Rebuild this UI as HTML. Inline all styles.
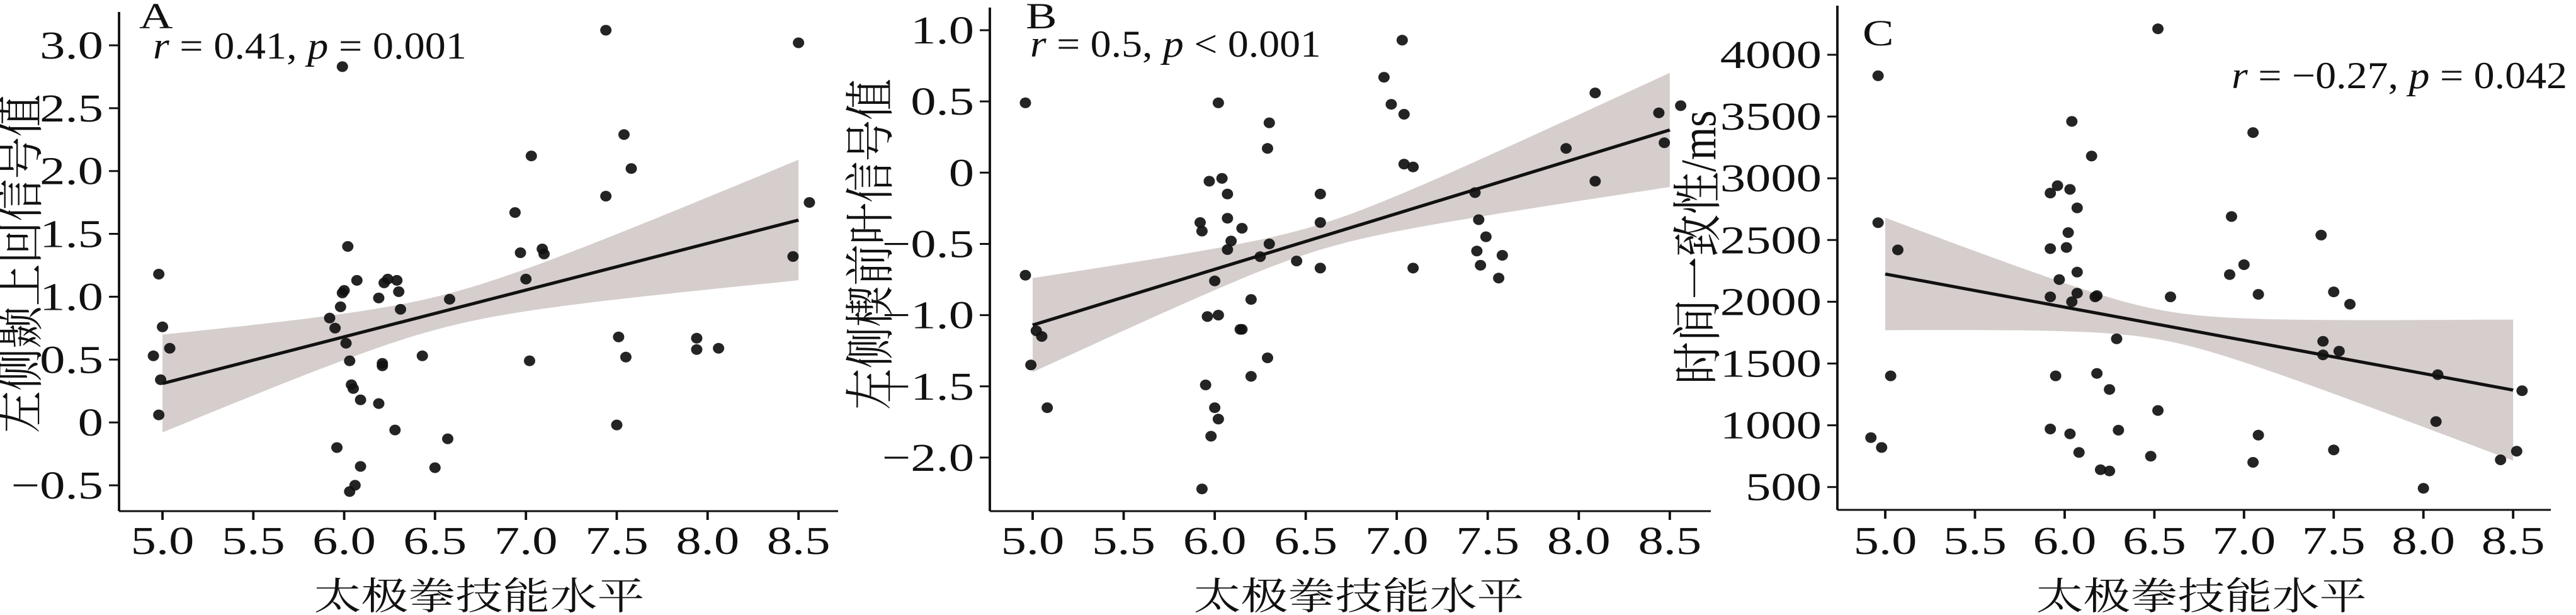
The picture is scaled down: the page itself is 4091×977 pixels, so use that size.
<!DOCTYPE html>
<html><head><meta charset="utf-8"><style>
html,body{margin:0;padding:0;background:#fff;}
svg{display:block;}
text{font-family:"Liberation Serif","Noto Serif CJK SC",serif;fill:#111;}
</style></head><body>
<svg id="s" width="4091" height="977" viewBox="0 0 3196 977" preserveAspectRatio="none" xmlns="http://www.w3.org/2000/svg"></svg>
<script>
const S=4091/3196;const svg=document.getElementById('s');let h='';
function X(x){return (x/S).toFixed(1);}
const P=[
{ax:189,y0:812,top:19,right:1331,x5:258,xu:288.6,ym:v=>72+(3-v)*199.7,
 yt:[-0.5,0,0.5,1,1.5,2,2.5,3],fmt:v=>v==0?'0':(v<0?'−':'')+Math.abs(v).toFixed(1),
 line:[0.31,1.61],a:0.017,b:0.056,xm:6.55,
 lab:'A',labx:221,laby:45,r:'r = 0.41, p = 0.001',rx:243,rw:498,ry:93,
 yl:'左侧颞上回信号值',ylx:35,yly:419,yll:538,xlc:761,
 pts:[[4.95,0.53],[4.98,1.18],[4.98,0.06],[4.99,0.34],[5.0,0.76],[5.04,0.59],[5.92,0.83],[5.95,0.75],[5.96,-0.2],[5.98,0.92],[5.99,2.83],[5.99,1.03],[6.0,1.05],[6.01,0.63],[6.02,1.4],[6.03,0.49],[6.03,-0.55],[6.04,0.3],[6.05,0.27],[6.06,-0.5],[6.07,1.13],[6.09,0.18],[6.09,-0.35],[6.19,0.15],[6.19,0.99],[6.21,0.47],[6.21,0.45],[6.22,1.11],[6.24,1.14],[6.28,-0.06],[6.29,1.13],[6.3,1.04],[6.31,0.9],[6.43,0.53],[6.5,-0.36],[6.57,-0.13],[6.58,0.98],[6.94,1.67],[6.97,1.35],[7.0,1.14],[7.02,0.49],[7.03,2.12],[7.09,1.38],[7.1,1.34],[7.44,1.8],[7.44,3.12],[7.5,-0.02],[7.51,0.68],[7.54,2.29],[7.55,0.52],[7.58,2.02],[7.94,0.67],[7.94,0.58],[8.06,0.59],[8.47,1.32],[8.5,3.02],[8.56,1.75]]},
{ax:1572,y0:812,top:12,right:2717,x5:1640,xu:289.1,ym:v=>48+(1-v)*226.3,
 yt:[-2,-1.5,-1,-0.5,0,0.5,1],fmt:v=>v==0?'0':(v<0?'−':'')+Math.abs(v).toFixed(1),
 line:[-1.07,0.30],a:0.008,b:0.041,xm:6.57,
 lab:'B',labx:1629,laby:45,r:'r = 0.5, p < 0.001',rx:1636,rw:462,ry:90,
 yl:'左侧楔前叶信号值',ylx:1386,yly:388,yll:526,xlc:2158,
 pts:[[4.96,0.49],[4.96,-0.72],[4.99,-1.35],[5.02,-1.11],[5.05,-1.15],[5.08,-1.65],[5.92,-0.35],[5.93,-0.41],[5.93,-2.22],[5.95,-1.49],[5.96,-1.01],[5.97,-0.06],[5.98,-1.85],[6.0,-1.65],[6.0,-0.76],[6.02,-1.73],[6.02,-1.0],[6.02,0.49],[6.04,-0.04],[6.07,-0.15],[6.07,-0.32],[6.07,-0.54],[6.09,-0.48],[6.14,-1.1],[6.15,-1.1],[6.15,-0.39],[6.2,-0.89],[6.2,-1.43],[6.25,-0.59],[6.29,-1.3],[6.29,0.17],[6.3,0.35],[6.3,-0.5],[6.45,-0.62],[6.58,-0.15],[6.58,-0.35],[6.58,-0.67],[6.93,0.67],[6.97,0.48],[7.03,0.93],[7.04,0.41],[7.04,0.06],[7.09,0.04],[7.09,-0.67],[7.43,-0.14],[7.44,-0.55],[7.45,-0.33],[7.46,-0.65],[7.49,-0.45],[7.56,-0.74],[7.58,-0.58],[7.93,0.17],[8.09,0.56],[8.09,-0.06],[8.44,0.42],[8.47,0.21],[8.56,0.47]]},
{ax:2918,y0:810,top:9,right:4051,x5:2994,xu:284.9,ym:v=>87+(4000-v)*0.1962,
 yt:[500,1000,1500,2000,2500,3000,3500,4000],fmt:v=>String(v),
 line:[2225,1285],a:14400,b:81270,xm:6.54,
 lab:'C',labx:2958,laby:72,r:'r = −0.27, p = 0.042',rx:3544,rw:533,ry:140,
 yl:'时间一致性/ms',ylx:2700,yly:393,yll:435,xlc:3496,
 pts:[[4.92,900],[4.96,3830],[4.96,2640],[4.98,820],[5.03,1400],[5.07,2420],[5.92,2880],[5.92,2430],[5.92,2040],[5.92,970],[5.95,1400],[5.96,2940],[5.97,2180],[6.01,2440],[6.02,2560],[6.03,2910],[6.03,930],[6.04,2000],[6.04,3460],[6.07,2760],[6.07,2240],[6.07,2070],[6.08,780],[6.15,3180],[6.17,2040],[6.18,2050],[6.18,1420],[6.2,640],[6.25,1290],[6.25,630],[6.29,1700],[6.3,960],[6.48,750],[6.52,4210],[6.52,1120],[6.59,2040],[6.92,2220],[6.93,2690],[7.0,2300],[7.05,700],[7.05,3370],[7.08,2060],[7.08,920],[7.43,2540],[7.44,1680],[7.44,1570],[7.5,2080],[7.5,800],[7.53,1600],[7.59,1980],[8.0,490],[8.07,1030],[8.08,1410],[8.43,720],[8.52,790],[8.55,1280]]}
];
for(const p of P){
 const xm=x=>p.x5+(x-5)*p.xu;
 const L=x=>p.line[0]+(p.line[1]-p.line[0])*(x-5)/3.5;
 const W=x=>Math.sqrt(p.a+p.b*(x-p.xm)**2);
 let up=[],lo=[];
 for(let i=0;i<=70;i++){const x=5+3.5*i/70;up.push(X(xm(x))+','+p.ym(L(x)+W(x)).toFixed(1));lo.unshift(X(xm(x))+','+p.ym(L(x)-W(x)).toFixed(1));}
 h+=`<polygon points="${up.concat(lo).join(' ')}" fill="#d5cecc"/>`;
 h+=`<line x1="${X(xm(5))}" y1="${p.ym(p.line[0])}" x2="${X(xm(8.5))}" y2="${p.ym(p.line[1])}" stroke="#111" stroke-width="5"/>`;
 for(const q of p.pts){h+=`<ellipse cx="${X(xm(q[0]))}" cy="${p.ym(q[1]).toFixed(1)}" rx="${(9/S).toFixed(2)}" ry="8.5" fill="#111" opacity="0.92"/>`;}
 h+=`<line x1="${X(p.ax)}" y1="${p.top}" x2="${X(p.ax)}" y2="${p.y0}" stroke="#111" stroke-width="3"/>`;
 h+=`<line x1="${X(p.ax)}" y1="${p.y0}" x2="${X(p.right)}" y2="${p.y0}" stroke="#111" stroke-width="3"/>`;
 for(const v of p.yt){const y=p.ym(v);h+=`<line x1="${X(p.ax-16)}" y1="${y}" x2="${X(p.ax)}" y2="${y}" stroke="#111" stroke-width="3"/>`;
  h+=`<text x="${X(p.ax-25)}" y="${(y+21).toFixed(1)}" font-size="63" text-anchor="end">${p.fmt(v)}</text>`;}
 for(let i=0;i<8;i++){const x=5+0.5*i;const px=xm(x);h+=`<line x1="${X(px)}" y1="${p.y0}" x2="${X(px)}" y2="${p.y0+14}" stroke="#111" stroke-width="3"/>`;
  h+=`<text x="${X(px)}" y="880" font-size="63" text-anchor="middle">${x.toFixed(1)}</text>`;}
 h+=`<text x="${X(p.labx)}" y="${p.laby}" font-size="58">${p.lab}</text>`;
 const rt=p.r.replace(/^r/,'<tspan font-style="italic">r</tspan>').replace(/p /,'<tspan font-style="italic">p</tspan> ');
 h+=`<text x="${X(p.rx)}" y="${p.ry}" font-size="60" textLength="${(p.rw/S).toFixed(1)}" lengthAdjust="spacingAndGlyphs">${rt}</text>`;
 h+=`<text transform="translate(${X(p.ylx+24)},${p.yly}) rotate(-90)" font-size="62" text-anchor="middle" textLength="${p.yll}" lengthAdjust="spacingAndGlyphs">${p.yl}</text>`;
 h+=`<text x="${X(p.xlc)}" y="968" font-size="60" text-anchor="middle" textLength="${(525/S).toFixed(1)}" lengthAdjust="spacingAndGlyphs">太极拳技能水平</text>`;
}
svg.innerHTML=h;
</script>
</body></html>
